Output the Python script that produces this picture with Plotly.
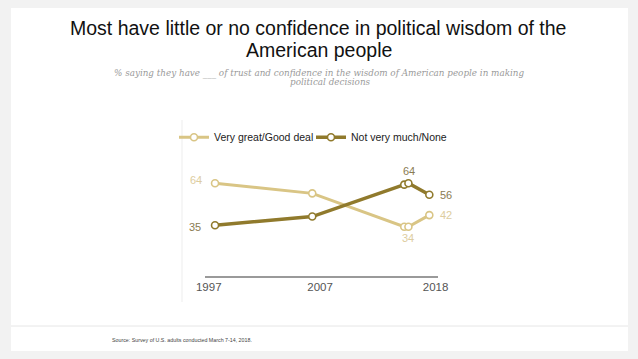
import plotly.graph_objects as go

# ---- data ----
survey_dates = [1997.7, 2007.0, 2015.8, 2016.2, 2018.2]
good_deal = [64, 57, 34, 34, 42]
not_much = [35, 41, 63, 64, 56]
series_names = ["Very great/Good deal", "Not very much/None"]
tick_positions = [1997.1, 2007.75, 2018.8]
tick_labels = ["1997", "2007", "2018"]

title_lines = ["Most have little or no confidence in political wisdom of the",
               "American people"]
subtitle_lines = ["% saying they have ___ of trust and confidence in the wisdom of American people in making",
                  "political decisions"]
source_text = "Source: Survey of U.S. adults conducted March 7-14, 2018."

LIGHT = "#d9c585"
DARK = "#907a2c"
LIGHT_TXT = "#ddcda0"
DARK_TXT = "#8a7b52"
SANS = "Liberation Sans, Arial, sans-serif"
SERIF = "DejaVu Serif, Georgia, serif"

fig = go.Figure()
fig.add_trace(go.Scatter(
    x=survey_dates, y=good_deal, name=series_names[0], mode="lines+markers",
    line=dict(color=LIGHT, width=3),
    marker=dict(symbol="circle", size=7, color="white", line=dict(color=LIGHT, width=1.6)),
    legend="legend", hoverinfo="skip"))
fig.add_trace(go.Scatter(
    x=survey_dates, y=not_much, name=series_names[1], mode="lines+markers",
    line=dict(color=DARK, width=3.5),
    marker=dict(symbol="circle", size=7, color="white", line=dict(color=DARK, width=1.6)),
    legend="legend2", hoverinfo="skip"))

# data labels (index, series, xshift, yshift, colour)
label_specs = [
    (0, good_deal, -19, 3, LIGHT_TXT),
    (4, good_deal, 17, 0, LIGHT_TXT),
    (3, good_deal, 0, -11, LIGHT_TXT),
    (0, not_much, -20, -2, DARK_TXT),
    (3, not_much, 1, 12, DARK_TXT),
    (4, not_much, 17, 0, DARK_TXT),
]
annotations = []
for i, ser, dx, dy, col in label_specs:
    annotations.append(dict(x=survey_dates[i], y=ser[i], xref="x", yref="y",
                            text=str(ser[i]), showarrow=False, xshift=dx, yshift=dy,
                            font=dict(family=SANS, size=11, color=col)))

# pixel helpers for paper coords (plot area: x 205..438, y 160..276)
L, R, T, B = 205, 438, 160, 276
def px(xp):
    return (xp - L) / (R - L)
def py(yp):
    return (B - yp) / (B - T)

annotations += [
    dict(x=px(318), y=py(28.3), xref="paper", yref="paper", text=title_lines[0],
         showarrow=False, xanchor="center", yanchor="middle",
         font=dict(family=SANS, size=19.5, color="#111")),
    dict(x=px(319), y=py(50.3), xref="paper", yref="paper", text=title_lines[1],
         showarrow=False, xanchor="center", yanchor="middle",
         font=dict(family=SANS, size=19.5, color="#111")),
    dict(x=px(319), y=py(73), xref="paper", yref="paper", text="<i>" + subtitle_lines[0] + "</i>",
         showarrow=False, xanchor="center", yanchor="middle",
         font=dict(family=SERIF, size=8.8, color="#9a9a9a")),
    dict(x=px(330), y=py(82), xref="paper", yref="paper", text="<i>" + subtitle_lines[1] + "</i>",
         showarrow=False, xanchor="center", yanchor="middle",
         font=dict(family=SERIF, size=8.8, color="#9a9a9a")),
    dict(x=px(110), y=py(340), xref="paper", yref="paper", text=source_text,
         showarrow=False, xanchor="left", yanchor="middle",
         font=dict(family=SANS, size=5.3, color="#444")),
]

shapes = [
    dict(type="rect", xref="paper", yref="paper", x0=px(11), x1=px(628), y0=py(351), y1=py(8),
         fillcolor="white", line=dict(width=0), layer="below"),
    dict(type="line", xref="paper", yref="paper", x0=px(11), x1=px(628), y0=py(326), y1=py(326),
         line=dict(color="#e6e6e6", width=1), layer="below"),
    dict(type="line", xref="paper", yref="paper", x0=px(182), x1=px(182), y0=py(302), y1=py(120),
         line=dict(color="#ededed", width=1), layer="below"),
]

fig.update_layout(
    width=638, height=359,
    margin=dict(l=L, r=638 - R, t=T, b=359 - B, pad=0),
    paper_bgcolor="#f2f2f2", plot_bgcolor="rgba(0,0,0,0)",
    showlegend=True,
    legend=dict(x=px(174), y=py(137.3), xanchor="left", yanchor="middle",
                orientation="h", bgcolor="rgba(0,0,0,0)",
                font=dict(family=SANS, size=10.5, color="#222")),
    legend2=dict(x=px(311), y=py(137.3), xanchor="left", yanchor="middle",
                 orientation="h", bgcolor="rgba(0,0,0,0)",
                 font=dict(family=SANS, size=10.5, color="#222")),
    xaxis=dict(range=[1996.74, 2019.03], tickvals=tick_positions, ticktext=tick_labels,
               showgrid=False, zeroline=False, showline=True, linecolor="#9a9a9a", linewidth=1.5,
               ticks="", tickfont=dict(family=SANS, size=11.5, color="#555")),
    yaxis=dict(range=[0, 80], visible=False, showgrid=False, zeroline=False),
    annotations=annotations, shapes=shapes,
)

fig.write_html("out.html", config={"displayModeBar": False, "staticPlot": True},
               post_script="document.body.style.margin='0';document.body.style.overflow='hidden';")
